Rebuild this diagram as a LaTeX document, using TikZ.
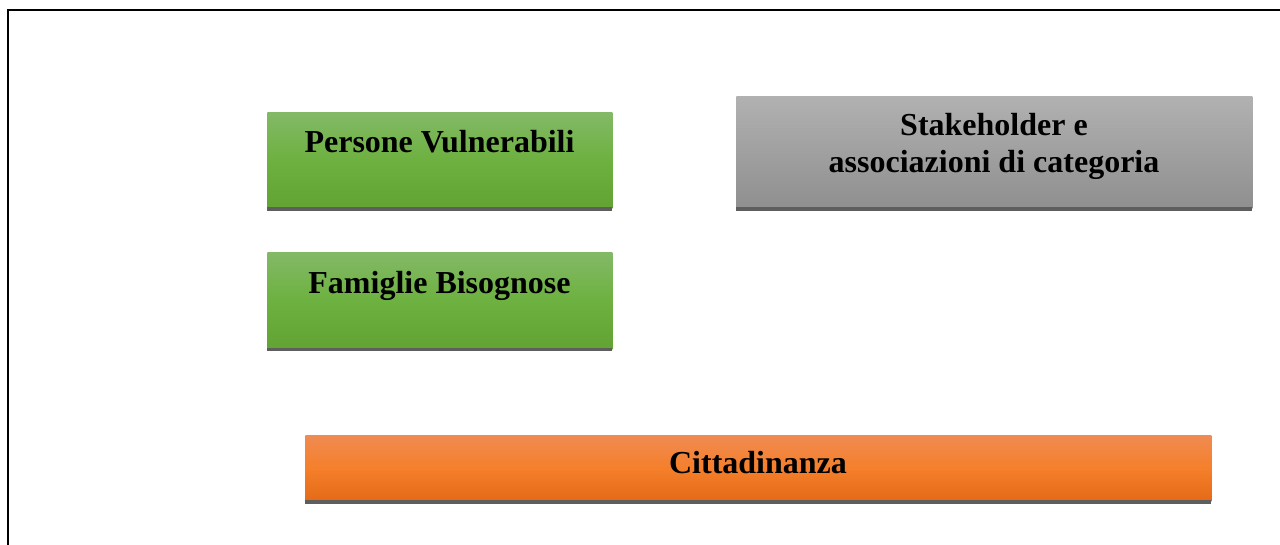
\documentclass[tikz,border=0pt]{standalone}
\usepackage{fontspec}
\setmainfont{Liberation Serif}
\begin{document}
\begin{tikzpicture}[x=0.75pt,y=-0.75pt,
  box/.style={draw=none,inner sep=0pt,anchor=north west},
  greenbox/.style={box,top color=green1,bottom color=green3,middle color=green2},
  graybox/.style={box,top color=gray1,bottom color=gray3,middle color=gray2},
  orangebox/.style={box,top color=orange1,bottom color=orange3,middle color=orange2},
  bar/.style={fill=bargray,draw=none},
  lbl/.style={anchor=base,font=\fontsize{24}{27.75}\selectfont\bfseries,text=black,inner sep=0pt,align=center},
  frame/.style={draw=black,line width=1.5pt}
]
\definecolor{green1}{HTML}{83B966}
\definecolor{green2}{HTML}{6DB140}
\definecolor{green3}{HTML}{62A333}
\definecolor{gray1}{HTML}{B1B1B1}
\definecolor{gray2}{HTML}{A0A0A0}
\definecolor{gray3}{HTML}{8F8F8F}
\definecolor{orange1}{HTML}{F08B53}
\definecolor{orange2}{HTML}{F57F2A}
\definecolor{orange3}{HTML}{E46A18}
\definecolor{bargray}{HTML}{5E5E5E}
\useasboundingbox (0,0) rectangle (1280,544);
\begin{scope}
\clip (0,0) rectangle (1280,544);
\draw[frame] (8,560) -- (8,10) -- (1300,10);
\end{scope}
% Persone Vulnerabili
\node[greenbox,minimum width=345*0.75pt,minimum height=96*0.75pt] (pv) at (267,112) {};
\fill[bar] (267,207) rectangle (612,211);
\node[lbl] (pvt) at (439.5,152) {Persone Vulnerabili};
% Famiglie Bisognose
\node[greenbox,minimum width=345*0.75pt,minimum height=97*0.75pt] (fb) at (267,252) {};
\fill[bar] (267,348) rectangle (612,351);
\node[lbl] (fbt) at (439.5,293) {Famiglie Bisognose};
% Stakeholder
\node[graybox,minimum width=516*0.75pt,minimum height=112*0.75pt] (sh) at (736,96) {};
\fill[bar] (736,207) rectangle (1252,211);
\node[lbl] (sht1) at (994,135) {Stakeholder e};
\node[lbl] (sht2) at (994,172) {associazioni di categoria};
% Cittadinanza
\node[orangebox,minimum width=906*0.75pt,minimum height=66*0.75pt] (ci) at (305,435) {};
\fill[bar] (305,500) rectangle (1211,504);
\node[lbl] (cit) at (758,473) {Cittadinanza};
\end{tikzpicture}
\end{document}
